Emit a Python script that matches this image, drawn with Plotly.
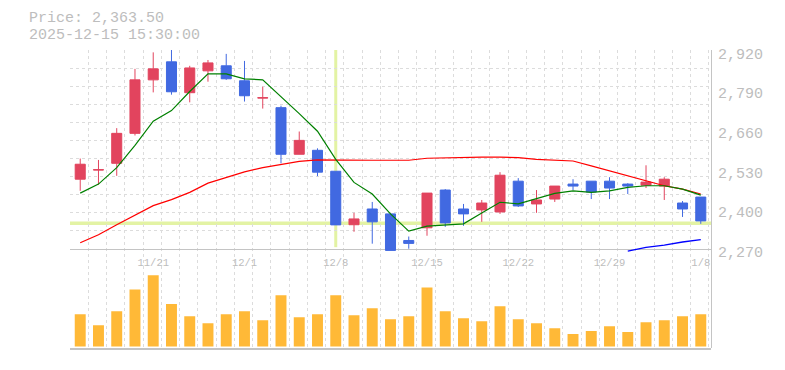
import plotly.graph_objects as go

# ---------------- data ----------------
dates = ["2025-11-17", "2025-11-18", "2025-11-19", "2025-11-20", "2025-11-21",
         "2025-11-25", "2025-11-26", "2025-11-27", "2025-11-28", "2025-12-01",
         "2025-12-02", "2025-12-03", "2025-12-04", "2025-12-05", "2025-12-08",
         "2025-12-09", "2025-12-10", "2025-12-11", "2025-12-12", "2025-12-15",
         "2025-12-16", "2025-12-17", "2025-12-18", "2025-12-19", "2025-12-22",
         "2025-12-23", "2025-12-24", "2025-12-25", "2025-12-26", "2025-12-29",
         "2025-12-30", "2026-01-05", "2026-01-06", "2026-01-07", "2026-01-08"]

open_ = [2508, 2538, 2560, 2658, 2833, 2892, 2791, 2862.5, 2879, 2830,
         2773.5, 2742, 2589.5, 2602.5, 2534, 2359, 2410.5, 2394.5, 2307.5, 2349,
         2472.5, 2410.5, 2407.5, 2401, 2501.5, 2427, 2443, 2492, 2501.5, 2501.5,
         2492, 2488.5, 2485.5, 2430, 2449.5]
high = [2575.5, 2571, 2675, 2869, 2923, 2935, 2879, 2898, 2918, 2895,
        2810.5, 2748.5, 2664, 2609, 2534, 2398, 2433.5, 2397, 2320.5, 2462.5,
        2475.5, 2427, 2440, 2531, 2511.5, 2472.5, 2485.5, 2508, 2501.5, 2514.5,
        2495, 2553.5, 2514.5, 2436.5, 2449.5]
low = [2470, 2490, 2519, 2651, 2792, 2784.5, 2759.5, 2827, 2833, 2762,
       2739, 2560, 2589.5, 2518, 2358.5, 2336, 2297, 2275, 2280.5, 2323,
       2352, 2355.5, 2368.5, 2394.5, 2417, 2398, 2433.5, 2472.5, 2443, 2443,
       2459.5, 2479, 2440, 2384.5, 2362]
close = [2557, 2539, 2658, 2833, 2869, 2794, 2872, 2888.5, 2836.5, 2781,
         2774.5, 2589.5, 2635, 2531, 2358.5, 2378, 2368.5, 2275, 2298, 2462.5,
         2365, 2394.5, 2430, 2521, 2420.5, 2440, 2485.5, 2485.5, 2466, 2479,
         2485.5, 2498.5, 2508, 2410.5, 2371.5]

volume = [325, 215, 355, 575, 718, 428, 305, 235, 325, 355,
          265, 515, 295, 325, 515, 315, 385, 275, 305, 595,
          355, 285, 255, 405, 275, 235, 185, 125, 155, 205,
          145, 245, 265, 305, 325]

ma5 = [2462.5, 2492, 2546, 2619, 2698, 2732.5, 2795, 2852.5, 2852.5, 2836.5,
       2833, 2779, 2722.5, 2665, 2573, 2497.5, 2459.5, 2394.5, 2338, 2354.5,
       2358.5, 2362, 2397.5, 2432.5, 2427, 2443, 2461.5, 2470, 2465, 2470,
       2481, 2486.5, 2486.5, 2475.5, 2456]
ma25 = [2300, 2326, 2359, 2389, 2421.5, 2441, 2465, 2495, 2513.5, 2532,
        2546, 2557, 2566.5, 2571, 2570, 2570, 2570, 2570, 2570, 2576.5,
        2578.5, 2580.5, 2580.5, 2580.5, 2578.5, 2573, 2571, 2567.5, 2551.5, 2535,
        2519, 2502.5, 2486.5, 2475.5, 2459.5]
ma75 = [None] * 30 + [2273, 2285, 2292.5, 2302.5, 2310]

tick_dates = ["2025-11-21", "2025-12-01", "2025-12-08", "2025-12-15",
              "2025-12-22", "2025-12-29", "2026-01-08"]
tick_labels = ["11/21", "12/1", "12/8", "12/15", "12/22", "12/29", "1/8"]
price_ticks = [2270, 2400, 2530, 2660, 2790, 2920]

cross_date = "2025-12-08"
cross_price = 2363.5
title_lines = ["Price: 2,363.50", "2025-12-15 15:30:00"]

# ---------------- style ----------------
RED = "#e2445e"
BLUE = "#4169e1"
ORANGE = "#ffb937"
TXT = "#bdbdbd"
GRID = "#dcdcdc"
AXIS = "#c4c4c4"
CROSS = "#e3f3a4"
FONT = "Liberation Mono"

x = list(range(len(dates)))
tickvals = [dates.index(d) for d in tick_dates]
cross_x = dates.index(cross_date)
XR = [-0.56, 34.56]

fig = go.Figure()
# helper (grid-only) subplots
fig.add_trace(go.Scatter(x=[0], y=[0], xaxis="x", yaxis="y", mode="markers",
                         marker=dict(opacity=0), hoverinfo="skip", showlegend=False))
fig.add_trace(go.Scatter(x=[0], y=[0], xaxis="x2", yaxis="y2", mode="markers",
                         marker=dict(opacity=0), hoverinfo="skip", showlegend=False))
# moving averages
fig.add_trace(go.Scatter(x=x, y=ma75, xaxis="x3", yaxis="y3", mode="lines",
                         line=dict(color="#0000ff", width=1.3), hoverinfo="skip",
                         cliponaxis=False))
fig.add_trace(go.Scatter(x=x, y=ma25, xaxis="x3", yaxis="y3", mode="lines",
                         line=dict(color="#ff0000", width=1.2), hoverinfo="skip"))
fig.add_trace(go.Scatter(x=x, y=ma5, xaxis="x3", yaxis="y3", mode="lines",
                         line=dict(color="#008000", width=1.2), hoverinfo="skip"))
# candles
fig.add_trace(go.Candlestick(
    x=x, open=open_, high=high, low=low, close=close, xaxis="x3", yaxis="y3",
    increasing=dict(line=dict(color=RED, width=1), fillcolor=RED),
    decreasing=dict(line=dict(color=BLUE, width=1), fillcolor=BLUE),
    whiskerwidth=0, hoverinfo="skip"))
# volume
fig.add_trace(go.Bar(x=x, y=volume, xaxis="x4", yaxis="y4",
                     marker=dict(color=ORANGE, line=dict(width=0)), hoverinfo="skip"))

fig.update_layout(
    width=777, height=362,
    margin=dict(l=62, r=74, t=42, b=20),
    paper_bgcolor="white", plot_bgcolor="rgba(0,0,0,0)",
    showlegend=False,
    boxgap=0.45, boxgroupgap=0, bargap=0.4,
    font=dict(family=FONT, color=TXT),
    xaxis=dict(domain=[0, 1], range=XR, anchor="y", tickmode="linear", tick0=0.45, dtick=1,
               showgrid=True, gridcolor=GRID, griddash="3px,3px", gridwidth=1,
               showticklabels=False, ticks="", zeroline=False, showline=False),
    yaxis=dict(domain=[0, 1], range=[0, 1], anchor="x", side="right", showgrid=False,
               zeroline=False, showticklabels=False, ticks="", showline=True,
               linecolor=AXIS, linewidth=1),
    xaxis2=dict(domain=[0, 1], range=XR, anchor="y2", showgrid=False, zeroline=False,
                showline=True, linecolor=AXIS, linewidth=1,
                tickmode="array", tickvals=tickvals, ticktext=tick_labels, ticks="",
                ticklabelstandoff=4,
                tickfont=dict(size=10.5, color=TXT, family=FONT)),
    yaxis2=dict(domain=[1 / 3, 1], range=[0, 11], anchor="x2", tickmode="linear", tick0=0,
                dtick=1, showgrid=True, gridcolor=GRID, griddash="3px,3px", gridwidth=1,
                zeroline=False, showticklabels=False, ticks=""),
    xaxis3=dict(domain=[0, 1], range=XR, anchor="y3", visible=False,
                rangeslider=dict(visible=False)),
    yaxis3=dict(domain=[0.32, 1], range=[2267.7, 2930.7], anchor="x3", side="right",
                tickmode="array", tickvals=price_ticks,
                ticktext=[f"{v:,}" for v in price_ticks],
                showgrid=False, zeroline=False, showline=False,
                ticks="outside", ticklen=3, tickcolor="rgba(0,0,0,0)",
                tickfont=dict(size=15, color=TXT, family=FONT)),
    xaxis4=dict(domain=[0, 1], range=XR, anchor="y4", showgrid=False, zeroline=False,
                showline=True, linecolor=AXIS, linewidth=1.5, showticklabels=False, ticks=""),
    yaxis4=dict(domain=[0, 80 / 300], range=[-15, 785], anchor="x4", visible=False),
    shapes=[
        dict(type="line", xref="x3", yref="y3 domain", x0=cross_x, x1=cross_x,
             y0=0.027, y1=1, line=dict(color=CROSS, width=3), layer="below"),
        dict(type="line", xref="x3 domain", yref="y3", x0=0, x1=1,
             y0=cross_price, y1=cross_price, line=dict(color=CROSS, width=3.5),
             layer="below"),
    ],
    annotations=[
        dict(text=title_lines[0], xref="paper", yref="paper", x=-43.2 / 641, y=(300 + 32) / 300,
             xanchor="left", yanchor="middle", showarrow=False,
             font=dict(size=15, color=TXT, family=FONT)),
        dict(text=title_lines[1], xref="paper", yref="paper", x=-43.2 / 641, y=(300 + 15) / 300,
             xanchor="left", yanchor="middle", showarrow=False,
             font=dict(size=15, color=TXT, family=FONT)),
    ],
)

fig.write_html("out.html")
